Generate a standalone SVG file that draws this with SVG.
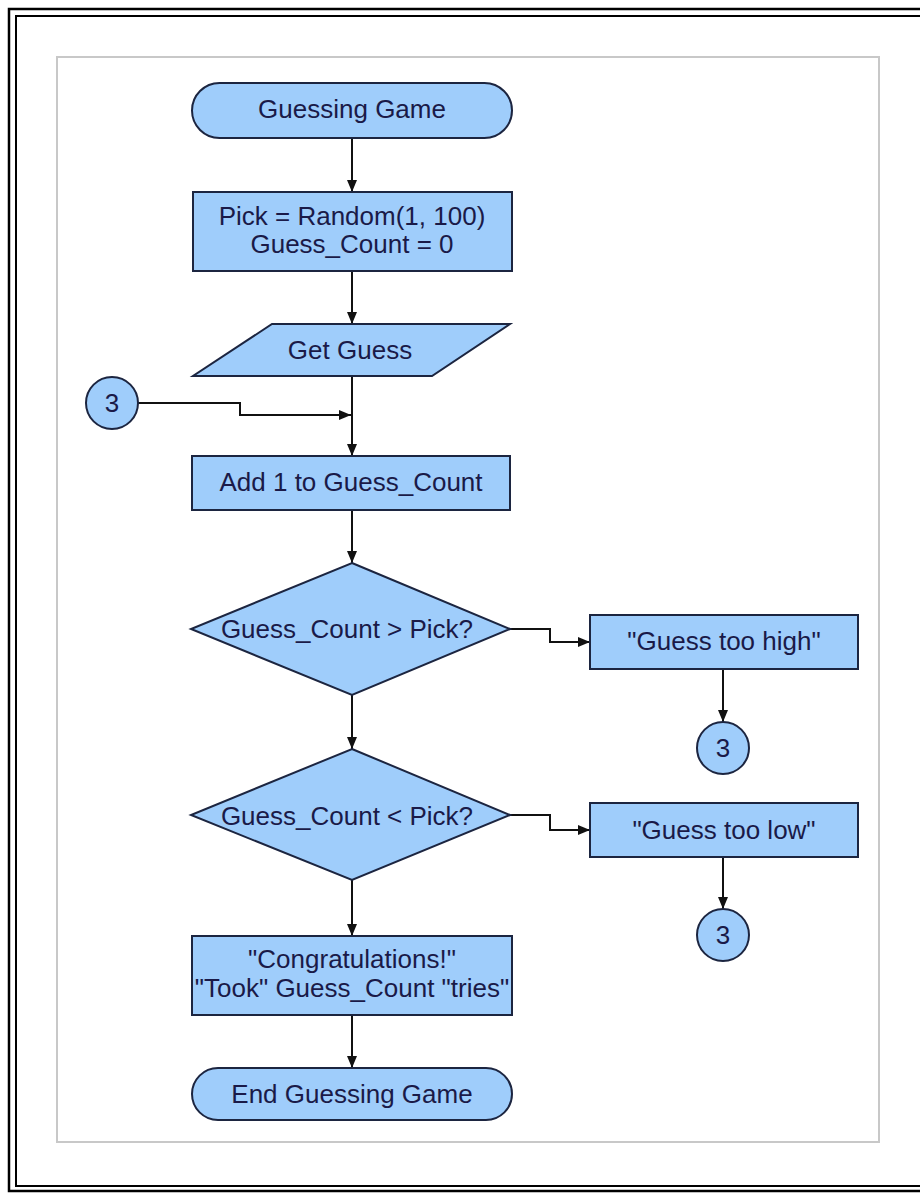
<svg xmlns="http://www.w3.org/2000/svg" width="920" height="1195" viewBox="0 0 920 1195">
<style>
.shape{fill:#9fcdfb;stroke:#1c2540;stroke-width:2}
.t{font-family:"Liberation Sans",Arial,sans-serif;font-size:26px;fill:#1a1a48;text-anchor:middle}
.c{fill:none;stroke:#111;stroke-width:2}
</style>
<defs>
<marker id="ah" viewBox="0 0 12 10" refX="12" refY="5" markerWidth="12" markerHeight="10" markerUnits="userSpaceOnUse" orient="auto">
<path d="M0,0 L12,5 L0,10 Z" fill="#111"/>
</marker>
</defs>
<rect x="0" y="0" width="920" height="1195" fill="#ffffff"/>
<g id="frame">
<rect x="9" y="9" width="940" height="1182" fill="none" stroke="#000" stroke-width="2.5"/>
<rect x="16" y="16" width="940" height="1170" fill="none" stroke="#000" stroke-width="2"/>
<rect x="57" y="57" width="822" height="1085" fill="none" stroke="#c8c8c8" stroke-width="2"/>
</g>
<g id="connectors">
<line class="c" x1="352" y1="138" x2="352" y2="192" marker-end="url(#ah)"/>
<line class="c" x1="352" y1="271" x2="352" y2="324" marker-end="url(#ah)"/>
<line class="c" x1="352" y1="376" x2="352" y2="456" marker-end="url(#ah)"/>
<polyline class="c" points="138,403 240,403 240,415 351,415" marker-end="url(#ah)"/>
<line class="c" x1="352" y1="510" x2="352" y2="563" marker-end="url(#ah)"/>
<polyline class="c" points="510,629 550,629 550,642 590,642" marker-end="url(#ah)"/>
<line class="c" x1="723" y1="669" x2="723" y2="722" marker-end="url(#ah)"/>
<line class="c" x1="352" y1="695" x2="352" y2="749" marker-end="url(#ah)"/>
<polyline class="c" points="510,815 550,815 550,830 590,830" marker-end="url(#ah)"/>
<line class="c" x1="723" y1="857" x2="723" y2="909" marker-end="url(#ah)"/>
<line class="c" x1="352" y1="880" x2="352" y2="936" marker-end="url(#ah)"/>
<line class="c" x1="352" y1="1015" x2="352" y2="1068" marker-end="url(#ah)"/>
</g>
<g id="start">
<rect class="shape" x="192" y="83" width="320" height="55" rx="27.5" ry="27.5"/>
<text class="t" x="352" y="118">Guessing Game</text>
</g>
<g id="init">
<rect class="shape" x="193" y="192" width="319" height="79"/>
<text class="t" x="352" y="225">Pick = Random(1, 100)</text>
<text class="t" x="352" y="253">Guess_Count = 0</text>
</g>
<g id="getguess">
<polygon class="shape" points="272,324 510,324 432,376 193,376"/>
<text class="t" x="350" y="359">Get Guess</text>
</g>
<g id="conn-left">
<circle class="shape" cx="112" cy="403" r="26"/>
<text class="t" x="112" y="412">3</text>
</g>
<g id="add">
<rect class="shape" x="192" y="456" width="318" height="54"/>
<text class="t" x="351" y="491">Add 1 to Guess_Count</text>
</g>
<g id="dec1">
<polygon class="shape" points="352,563 510,629 352,695 191,629"/>
<text class="t" x="347" y="638">Guess_Count &gt; Pick?</text>
</g>
<g id="high">
<rect class="shape" x="590" y="615" width="268" height="54"/>
<text class="t" x="724" y="650">"Guess too high"</text>
</g>
<g id="conn-high">
<circle class="shape" cx="723" cy="748" r="26"/>
<text class="t" x="723" y="757">3</text>
</g>
<g id="dec2">
<polygon class="shape" points="352,749 510,815 352,880 191,815"/>
<text class="t" x="347" y="825">Guess_Count &lt; Pick?</text>
</g>
<g id="low">
<rect class="shape" x="590" y="803" width="268" height="54"/>
<text class="t" x="724" y="839">"Guess too low"</text>
</g>
<g id="conn-low">
<circle class="shape" cx="723" cy="935" r="26"/>
<text class="t" x="723" y="944">3</text>
</g>
<g id="congrats">
<rect class="shape" x="192" y="936" width="320" height="79"/>
<text class="t" x="352" y="968">"Congratulations!"</text>
<text class="t" x="352" y="997">"Took" Guess_Count "tries"</text>
</g>
<g id="end">
<rect class="shape" x="192" y="1068" width="320" height="52" rx="26" ry="26"/>
<text class="t" x="352" y="1103">End Guessing Game</text>
</g>
</svg>
